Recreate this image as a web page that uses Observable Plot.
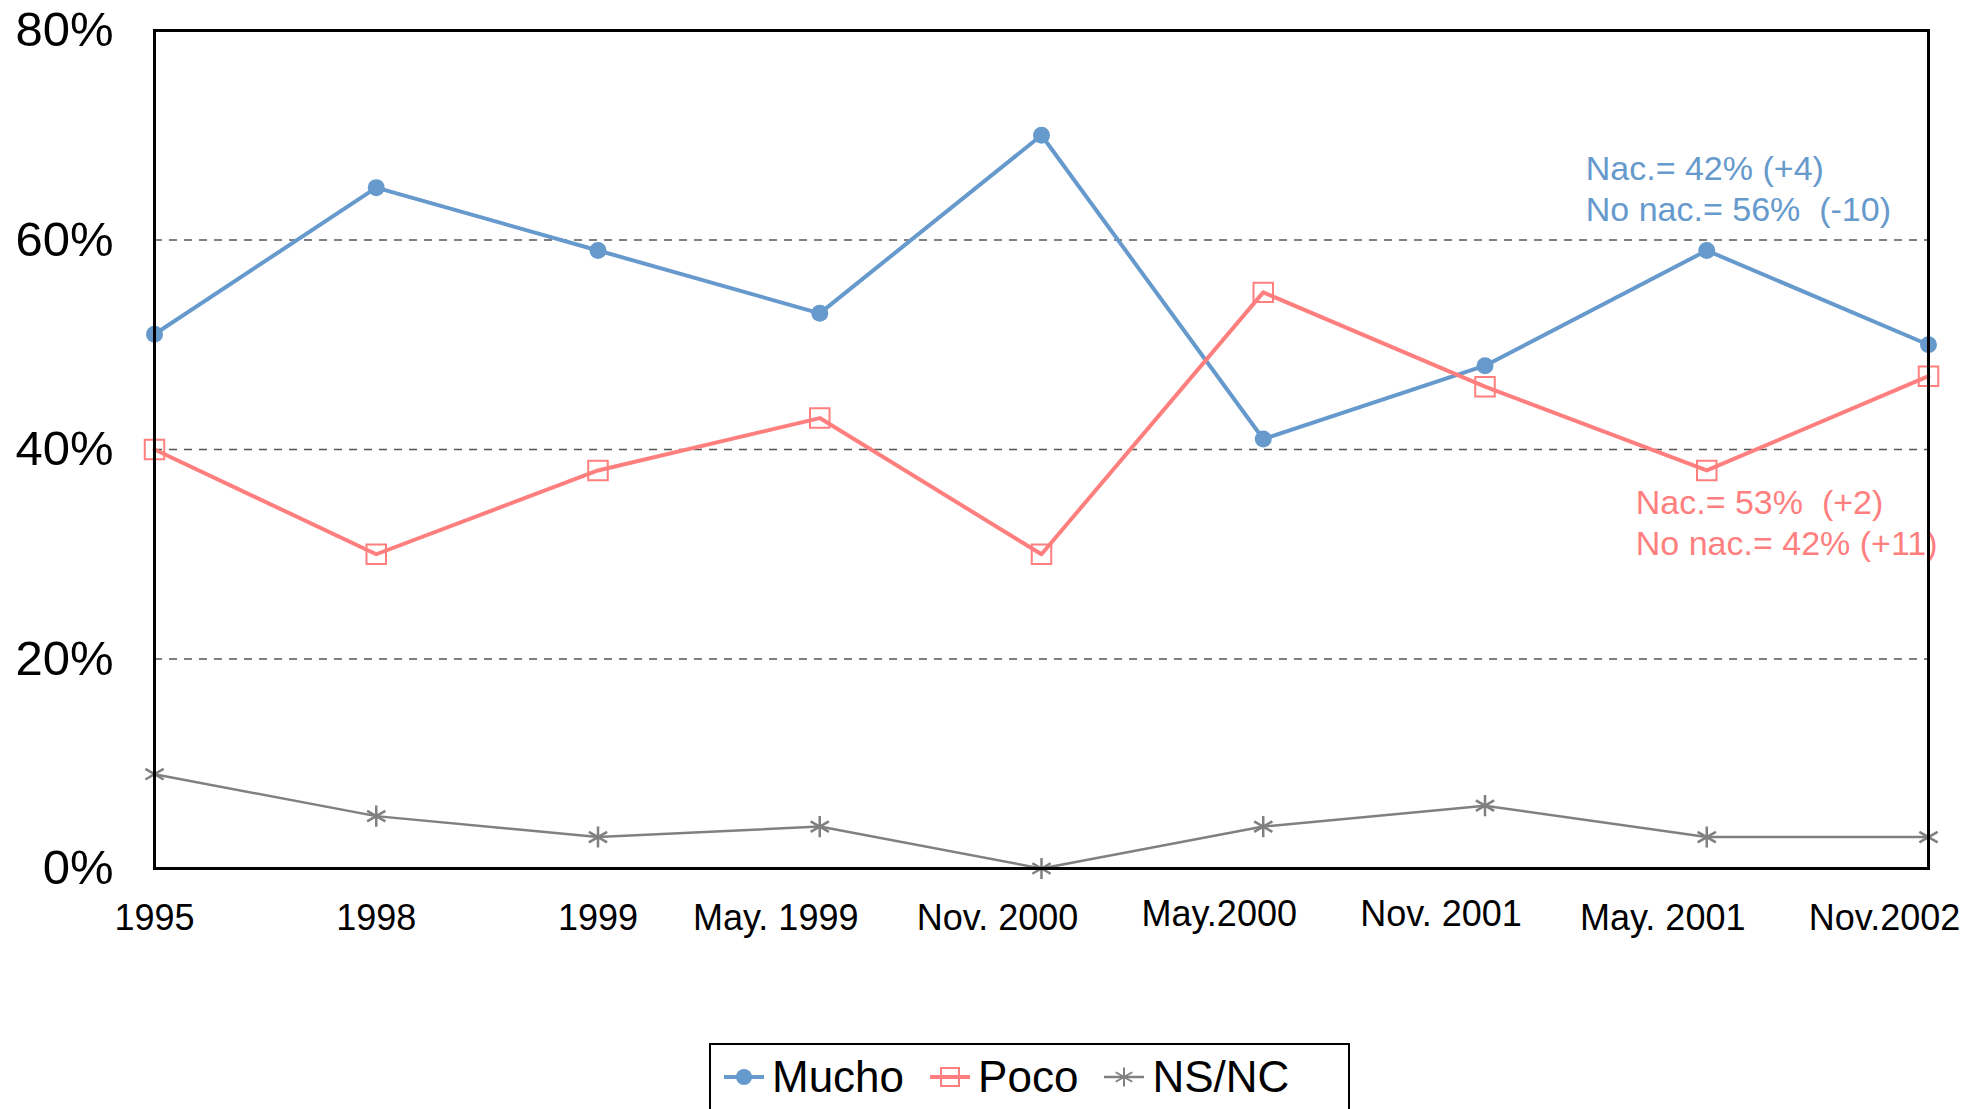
<!DOCTYPE html>
<html>
<head>
<meta charset="utf-8">
<script src="https://cdn.jsdelivr.net/npm/d3@7"></script>
<script src="https://cdn.jsdelivr.net/npm/@observablehq/plot@0.6"></script>
<style>
  html, body { margin: 0; padding: 0; background: #fff; }
  body { width: 1975px; height: 1109px; position: relative; overflow: hidden; font-family: "Liberation Sans", Arial, sans-serif; color: #000; }
  #legend { position: absolute; left: 709px; top: 1043px; width: 641px; height: 68px; box-sizing: border-box; border: 2px solid #000; display: flex; align-items: center; padding-left: 13px; font-size: 44px; }
  #legend .item { display: flex; align-items: center; margin-right: 26px; }
  #legend svg { margin-right: 8px; }
</style>
</head>
<body>
<div id="chart"></div>
<div id="legend"></div>
<script>
// ---- data ----
const categories = ["1995", "1998", "1999", "May. 1999", "Nov. 2000", "May.2000", "Nov. 2001", "May. 2001", "Nov.2002"];
const mucho = [51, 65, 59, 53, 70, 41, 48, 59, 50];
const poco  = [40, 30, 38, 43, 30, 55, 46, 38, 47];
const nsnc  = [9, 5, 3, 4, 0, 4, 6, 3, 3];
const seriesNames = ["Mucho", "Poco", "NS/NC"];
const yTicks = [0, 20, 40, 60, 80];
const gridTicks = [20, 40, 60];
const annotBlue = ["Nac.= 42% (+4)\nNo nac.= 56%  (-10)"];
const annotRed  = ["Nac.= 53%  (+2)\nNo nac.= 42% (+11)"];

const colors = { Mucho: "#6699CC", Poco: "#FF7F7F", "NS/NC": "#808080" };
const rows = (name, vals) => categories.map((c, i) => ({ cat: c, value: vals[i], series: name }));
const dMucho = rows("Mucho", mucho);
const dPoco = rows("Poco", poco);
const dNs = rows("NS/NC", nsnc);

const groupA = categories.slice(0, 3);
const groupB = [categories[3], categories[4], categories[7], categories[8]];
const groupC = [categories[5], categories[6]];

const W = 1975, H = 1035;
const chart = Plot.plot({
  width: W,
  height: H,
  marginLeft: 154,
  marginRight: 47,
  marginTop: 30,
  marginBottom: H - 868,
  style: { fontFamily: "'Liberation Sans', Arial, sans-serif", color: "#000", background: "#fff" },
  x: { type: "point", domain: categories, padding: 0, round: false },
  y: { domain: [0, 80] },
  marks: [
    Plot.ruleY(gridTicks, { stroke: "#555", strokeWidth: 1.5, strokeDasharray: "8,7" }),
    Plot.axisY(yTicks, { tickSize: 0, tickPadding: 41, fontSize: 49, tickFormat: d => d + "%", label: null }),
    Plot.axisX(groupA, { tickSize: 0, tickPadding: 36, fontSize: 36, label: null }),
    Plot.axisX(groupB, { tickSize: 0, tickPadding: 36, fontSize: 36, dx: -44, label: null }),
    Plot.axisX(groupC, { tickSize: 0, tickPadding: 36, fontSize: 36, dx: -44, dy: -4, label: null }),
    Plot.line(dNs, { x: "cat", y: "value", stroke: colors["NS/NC"], strokeWidth: 2.5 }),
    Plot.dot(dNs, { x: "cat", y: "value", symbol: "asterisk", r: 10, stroke: colors["NS/NC"], strokeWidth: 2.5 }),
    Plot.line(dMucho, { x: "cat", y: "value", stroke: colors.Mucho, strokeWidth: 4 }),
    Plot.dot(dMucho, { x: "cat", y: "value", symbol: "circle", r: 8.5, fill: colors.Mucho, stroke: "none" }),
    Plot.line(dPoco, { x: "cat", y: "value", stroke: colors.Poco, strokeWidth: 4 }),
    Plot.dot(dPoco, { x: "cat", y: "value", symbol: "square", r: 11, fill: "none", stroke: colors.Poco, strokeWidth: 2 }),
    Plot.text(annotBlue, { x: () => categories[7], y: () => 65, text: d => d, textAnchor: "start", lineAnchor: "middle", dx: -121, fontSize: 34, lineHeight: 1.2, fill: colors.Mucho }),
    Plot.text(annotRed, { x: () => categories[7], y: () => 33.1, text: d => d, textAnchor: "start", lineAnchor: "middle", dx: -71, fontSize: 34, lineHeight: 1.2, fill: colors.Poco }),
    Plot.frame({ stroke: "#000", strokeWidth: 3 })
  ]
});
document.getElementById("chart").appendChild(chart);

// ---- legend ----
const legend = document.getElementById("legend");
const symbols = { Mucho: "circle", Poco: "square", "NS/NC": "asterisk" };
seriesNames.forEach(name => {
  const item = document.createElement("div");
  item.className = "item";
  const ns = "http://www.w3.org/2000/svg";
  const s = document.createElementNS(ns, "svg");
  s.setAttribute("width", 40); s.setAttribute("height", 30);
  const ln = document.createElementNS(ns, "line");
  ln.setAttribute("x1", 0); ln.setAttribute("x2", 40); ln.setAttribute("y1", 15); ln.setAttribute("y2", 15);
  ln.setAttribute("stroke", colors[name]); ln.setAttribute("stroke-width", name === "NS/NC" ? 2.5 : 4);
  s.appendChild(ln);
  const sym = d3.symbol().type(symbols[name] === "circle" ? d3.symbolCircle : symbols[name] === "square" ? d3.symbolSquare : d3.symbolAsterisk)
    .size(symbols[name] === "circle" ? Math.PI * 8 * 8 : symbols[name] === "square" ? 18 * 18 : Math.PI * 9 * 9);
  const p = document.createElementNS(ns, "path");
  p.setAttribute("d", sym());
  p.setAttribute("transform", "translate(20,15)");
  if (name === "Mucho") { p.setAttribute("fill", colors[name]); }
  else { p.setAttribute("fill", "none"); p.setAttribute("stroke", colors[name]); p.setAttribute("stroke-width", 2); }
  s.appendChild(p);
  item.appendChild(s);
  const t = document.createElement("span");
  t.textContent = name;
  item.appendChild(t);
  legend.appendChild(item);
});
</script>
</body>
</html>
